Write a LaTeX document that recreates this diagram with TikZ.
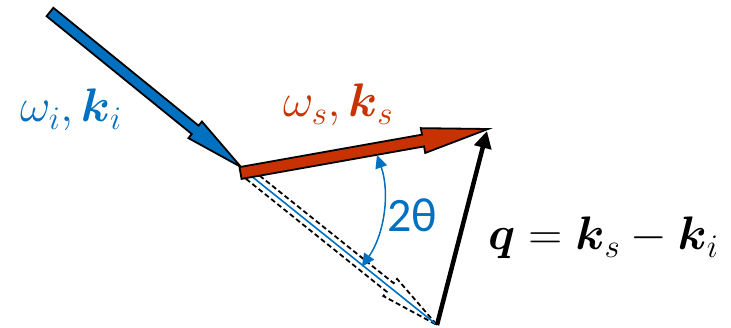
\RequirePackage{fix-cm}
\documentclass[tikz,border=0pt]{standalone}
\usepackage{amsmath,amssymb}
\usepackage{fontspec}
\newfontfamily\carlito{Carlito}
\usetikzlibrary{calc,arrows.meta}
\definecolor{oblue}{HTML}{0070C0}
\definecolor{ored}{HTML}{C83200}
\newcommand\blockarrow[6]{%
  \coordinate (hb) at ($(#3)!#6!(#2)$);
  \path[#1] ($(#2)!#4!90:(#3)$) -- ($(hb)!#4!90:(#3)$) -- ($(hb)!#5!90:(#3)$) -- (#3)
    -- ($(hb)!#5!-90:(#3)$) -- ($(hb)!#4!-90:(#3)$) -- ($(#2)!#4!-90:(#3)$) -- cycle;}
\begin{document}
\begin{tikzpicture}[x=1pt,y=-1pt,
  solidarrow/.style={draw=black,line width=1.8pt},
  ghostarrow/.style={draw=black,line width=1.8pt,dash pattern=on 5pt off 3pt},
  mathlabel/.style={inner sep=0pt,anchor=base west,font=\fontsize{47}{50}\selectfont},
  anglelabel/.style={inner sep=0pt,anchor=base west,text=oblue,font=\carlito\fontsize{48}{50}\selectfont}]
\useasboundingbox (0,0) rectangle (731,328);
\coordinate (kiT) at (50,12);
\coordinate (kiP) at (241,167);
\coordinate (ksT) at (240.5,173);
\coordinate (ksP) at (488,129);
\coordinate (gT) at (250,175);
\coordinate (gP) at (437,325);
\coordinate (qT) at (437,325);
\coordinate (qP) at (487,131);
\coordinate (arcA) at (377,155);
% incident beam
\blockarrow{solidarrow,fill=oblue}{kiT}{kiP}{5.4pt}{10.7pt}{59pt}
% ghost copy of incident beam
\blockarrow{ghostarrow,fill=white}{gT}{gP}{5.5pt}{11pt}{60pt}
\draw[oblue,line width=1.6pt] (gT) -- (gP);
% scattered beam
\blockarrow{solidarrow,fill=ored}{ksT}{ksP}{6pt}{12.6pt}{66pt}
% q vector
\draw[line width=4.5pt,-{Triangle[length=17pt,width=17pt]}] (qT) -- (qP);
% angle
\draw[oblue,line width=1.5pt,{Triangle[length=13pt,width=12pt]}-{Triangle[length=13pt,width=12pt]}]
  (arcA) arc[start angle=-19.3,end angle=34.8,radius=124];
% labels
\node[mathlabel,text=oblue] (lki) at (20,122) {$\omega_i,\boldsymbol{k}_i$};
\node[mathlabel,text=ored] (lks) at (283,117) {$\omega_s,\boldsymbol{k}_s$};
\node[mathlabel] (lq) at (488,250) {$\boldsymbol{q}=\boldsymbol{k}_s-\boldsymbol{k}_i$};
\node[anglelabel] (lth) at (387,232) {2θ};
\end{tikzpicture}
\end{document}
